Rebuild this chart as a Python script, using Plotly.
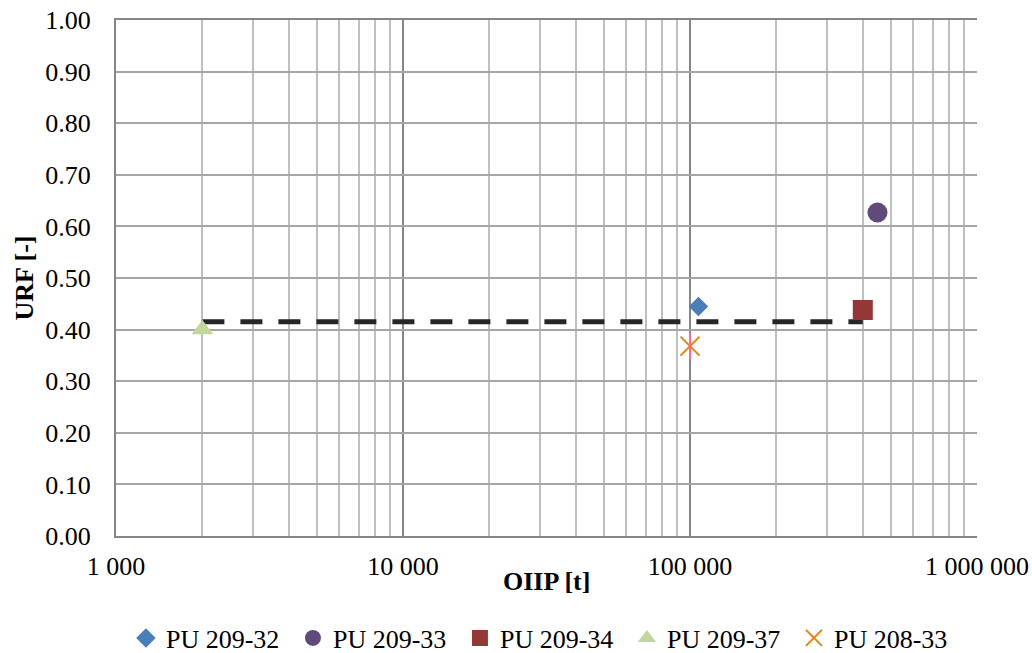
import plotly.graph_objects as go

names = ["PU 209-32", "PU 209-33", "PU 209-34", "PU 209-37", "PU 208-33"]
oiip = [107000, 450000, 400000, 2000, 100000]
urf = [0.445, 0.627, 0.438, 0.40, 0.368]
colors = ["#4a7ebb", "#604a7b", "#953735", "#c3d69b", "#f07f09"]
symbols = ["diamond", "circle", "square", "triangle-up", "x-thin-open"]
sizes = [15, 20, 20, 19, 19]

avg_x = [2000, 400000]
avg_y = [0.415, 0.415]

x_ticks = [1000, 10000, 100000, 1000000]
x_ticktext = ["1 000", "10 000", "100 000", "1 000 000"]
y_ticks = [round(i * 0.1, 1) for i in range(11)]

x_title = "<b>OIIP [t]</b>"
y_title = "<b>URF [-]</b>"

font = "Liberation Serif, Times New Roman, serif"
fs = 26

fig = go.Figure()
fig.add_trace(go.Scatter(x=avg_x, y=avg_y, mode="lines", showlegend=False,
                         line=dict(color="#262626", width=5, dash="22px,16px"),
                         hoverinfo="skip"))
for n, xv, yv, c, s, sz in zip(names, oiip, urf, colors, symbols, sizes):
    mk = dict(color=c, symbol=s, size=sz)
    if s.endswith("open"):
        mk["line"] = dict(color=c, width=2)
    fig.add_trace(go.Scatter(x=[xv], y=[yv], mode="markers", name=n, marker=mk,
                             legendgroup=n))
    if s == "x-thin-open":
        fig.add_trace(go.Scatter(x=[xv], y=[yv], mode="markers", showlegend=False,
                                 legendgroup=n,
                                 marker=dict(symbol="line-ns-open", size=sz,
                                             line=dict(color=c, width=2))))

fig.update_layout(
    width=1032, height=653,
    margin=dict(l=116, r=55, t=20, b=117, autoexpand=False),
    paper_bgcolor="white", plot_bgcolor="white",
    font=dict(family=font, size=fs, color="black"),
    legend=dict(orientation="h", x=0.5266, xanchor="center", xref="container",
                y=0.023, yanchor="middle", yref="container",
                font=dict(size=fs), itemwidth=30, tracegroupgap=0,
                entrywidth=122),
    annotations=[
        dict(text=x_title, xref="paper", yref="paper", x=0.5, y=-0.0875,
             xanchor="center", yanchor="middle", showarrow=False,
             font=dict(size=fs)),
        dict(text=y_title, xref="paper", yref="paper", x=-0.1063, y=0.5,
             xanchor="center", yanchor="middle", showarrow=False, textangle=-90,
             font=dict(size=fs)),
    ],
)
fig.update_xaxes(type="log", range=[3, 6], tickvals=x_ticks, ticktext=x_ticktext,
                 showgrid=True, gridcolor="#868686", gridwidth=2,
                 minor=dict(showgrid=True, gridcolor="#bfbfbf", gridwidth=2, dtick="D1"),
                 showline=True, linecolor="#868686", linewidth=2, mirror=True,
                 zeroline=False, ticks="", ticklabelstandoff=6, automargin=False,
                 ticklabeloverflow="allow")
fig.update_yaxes(range=[0, 1], tickvals=y_ticks, tickformat=".2f",
                 showgrid=True, gridcolor="#a6a6a6", gridwidth=2,
                 showline=True, linecolor="#868686", linewidth=2,
                 zeroline=False, ticks="", ticklabelstandoff=18, automargin=False,
                 ticklabeloverflow="allow")

fig.write_html(
    "out.html",
    config={"displayModeBar": False},
    post_script="document.body.style.margin='0';document.body.style.overflow='hidden';",
)
